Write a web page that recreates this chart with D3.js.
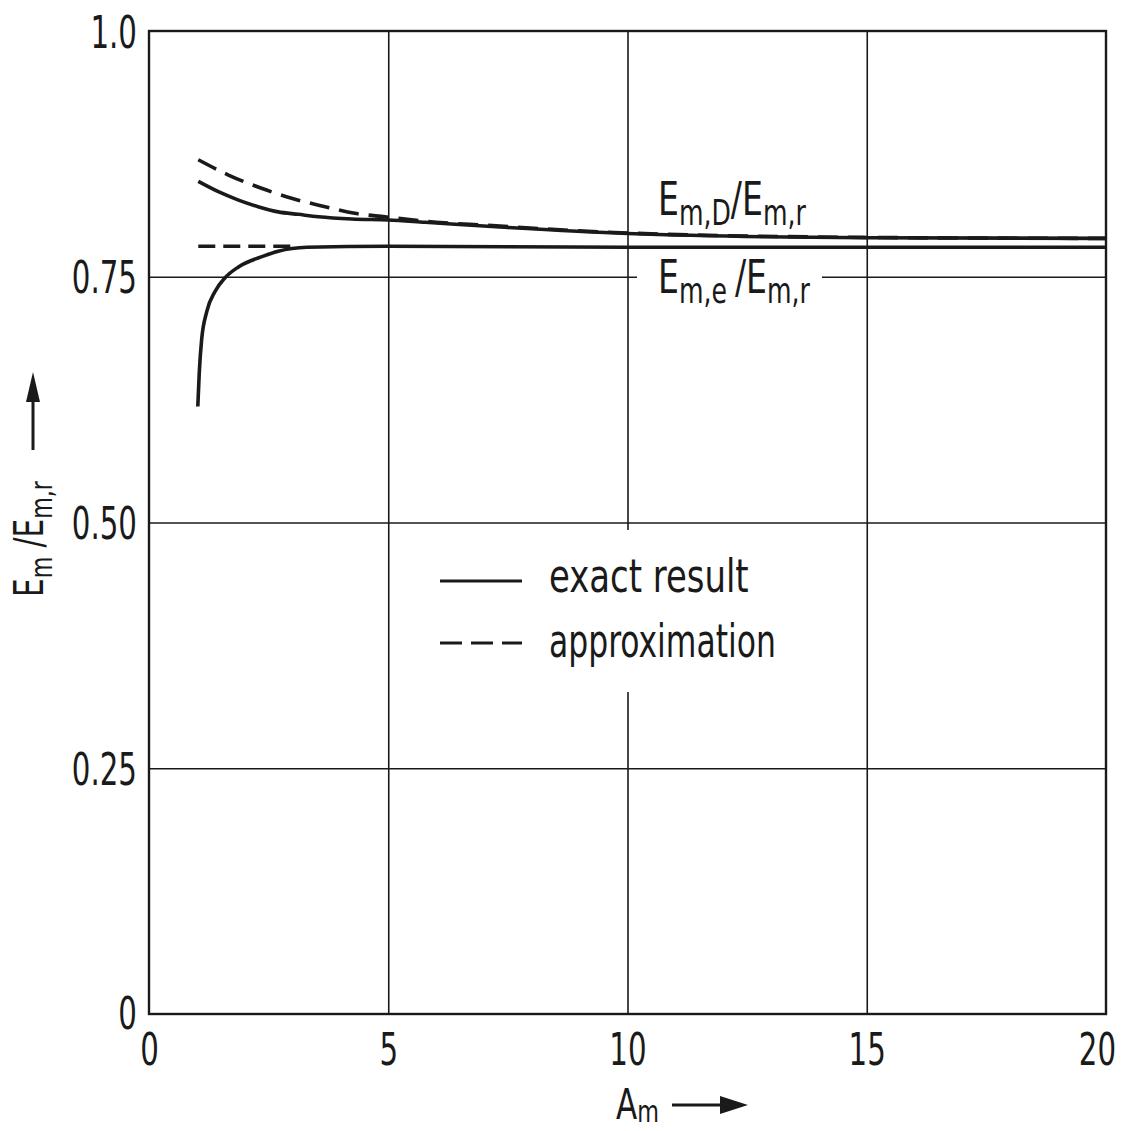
<!DOCTYPE html>
<html><head><meta charset="utf-8">
<script src="https://cdn.jsdelivr.net/npm/d3@7"></script>
<style>
body{margin:0;background:#fff;}
svg text{font-family:'DejaVu Sans Condensed','Liberation Sans Narrow','Liberation Sans',sans-serif;fill:#1a1a1a;}
</style></head>
<body><svg id="c" width="1123" height="1131"></svg>
<script>
// ---- data ----
const xTicks = [0, 5, 10, 15, 20];
const yTicks = [0, 0.25, 0.5, 0.75, 1.0];
const yTickLabels = ["0", "0.25", "0.50", "0.75", "1.0"];
const xTickLabels = ["0", "5", "10", "15", "20"];

const dExactX = [1.03, 1.45, 1.87, 2.28, 2.70, 3.12, 3.54, 4.24, 5.0, 5.77, 7.33, 10, 15, 20];
const dExactY = [0.847, 0.8365, 0.828, 0.8213, 0.816, 0.8135, 0.811, 0.8087, 0.8077, 0.8054, 0.8006, 0.794, 0.7897, 0.789];
const dApproxX = [1.03, 1.66, 2.35, 2.98, 3.68, 4.30, 4.93, 6, 7, 10, 15, 20];
const dApproxY = [0.869, 0.8535, 0.840, 0.8298, 0.8213, 0.8145, 0.811, 0.8055, 0.8025, 0.7945, 0.790, 0.789];
const eExactX = [1.02, 1.05, 1.10, 1.21, 1.38, 1.59, 1.87, 2.39, 2.70, 3.3, 5, 10, 20];
const eExactY = [0.618, 0.652, 0.686, 0.715, 0.735, 0.749, 0.760, 0.771, 0.776, 0.780, 0.781, 0.780, 0.780];
const eApproxX = [1.03, 3.0];
const eApproxY = [0.781, 0.781];

const legendItems = ["exact result", "approximation"];

// ---- layout ----
const svg = d3.select("#c");
const L = 149, R = 1106, T = 31, B = 1014;
const x = d3.scaleLinear().domain([0, 20]).range([L, R]);
const y = d3.scaleLinear().domain([0, 1]).range([B, T]);
const ink = "#1a1a1a";

function ctext(g, tx, ty, size, sx, anchor) {
  return g.append("text").attr("transform", `translate(${tx},${ty}) scale(${sx},1)`)
    .attr("font-size", size).attr("text-anchor", anchor || "start");
}

// grid via axes
svg.append("g").attr("transform", `translate(0,${B})`)
  .call(d3.axisBottom(x).tickValues([5, 10, 15]).tickSize(-(B - T)).tickFormat(""))
  .call(g => g.select(".domain").remove())
  .call(g => g.selectAll("line").attr("stroke", ink).attr("stroke-width", 1.6));
svg.append("g").attr("transform", `translate(${L},0)`)
  .call(d3.axisLeft(y).tickValues([0.25, 0.5, 0.75]).tickSize(-(R - L)).tickFormat(""))
  .call(g => g.select(".domain").remove())
  .call(g => g.selectAll("line").attr("stroke", ink).attr("stroke-width", 1.6));

// tick labels via axes
const TSX = 0.74;
const ax = svg.append("g").attr("transform", `translate(0,${B})`)
  .call(d3.axisBottom(x).tickValues(xTicks).tickSize(0).tickPadding(0).tickFormat((d, i) => xTickLabels[i]));
ax.select(".domain").remove();
ax.selectAll("text").attr("font-size", 44).attr("fill", ink)
  .attr("y", null).attr("dy", null)
  .attr("transform", d => `translate(${d === 20 ? -9 : 0},51) scale(${TSX},1)`);

const ay = svg.append("g").attr("transform", `translate(${L},0)`)
  .call(d3.axisLeft(y).tickValues(yTicks).tickSize(0).tickPadding(0).tickFormat((d, i) => yTickLabels[i]));
ay.select(".domain").remove();
ay.selectAll("text").attr("font-size", 44).attr("fill", ink)
  .attr("x", null).attr("dy", null)
  .attr("transform", d => `translate(-12,${d === 0 ? 14 : 16}) scale(${TSX},1)`);

// label masks
svg.append("rect").attr("x", 637).attr("y", 262).attr("width", 185).attr("height", 40).attr("fill", "#fff");
svg.append("rect").attr("x", 600).attr("y", 530).attr("width", 60).attr("height", 162).attr("fill", "#fff");

// frame
svg.append("rect").attr("x", L).attr("y", y(1)).attr("width", R - L).attr("height", B - y(1))
  .attr("fill", "none").attr("stroke", ink).attr("stroke-width", 2.4);

// curves
const line = d3.line().x(d => x(d[0])).y(d => y(d[1])).curve(d3.curveMonotoneX);
const series = [
  [dExactX, dExactY, null],
  [dApproxX, dApproxY, "20,10"],
  [eExactX, eExactY, null],
  [eApproxX, eApproxY, "17,8"]
];
series.forEach(([xs, ys, dash]) => {
  svg.append("path").datum(xs.map((v, i) => [v, ys[i]]))
    .attr("d", line).attr("fill", "none").attr("stroke", ink)
    .attr("stroke-width", 3.6).attr("stroke-dasharray", dash);
});

// curve labels
function frac(tx, ty, sub1, sub2) {
  const t = ctext(svg, tx, ty, 46, 0.8, "start");
  t.append("tspan").text("E");
  t.append("tspan").attr("font-size", 35).attr("dy", 10).text(sub1);
  t.append("tspan").attr("dy", -10).text("/E");
  t.append("tspan").attr("font-size", 35).attr("dy", 10).text(sub2);
  return t;
}
frac(658, 215, "m,D", "m,r");
frac(658, 293, "m,e ", "m,r");

// legend
svg.append("line").attr("x1", 440).attr("x2", 522).attr("y1", 581).attr("y2", 581)
  .attr("stroke", ink).attr("stroke-width", 3);
svg.append("line").attr("x1", 440).attr("x2", 522).attr("y1", 643).attr("y2", 643)
  .attr("stroke", ink).attr("stroke-width", 3).attr("stroke-dasharray", "22,9");
ctext(svg, 549, 592, 46, 0.82).text(legendItems[0]);
ctext(svg, 549, 657, 46, 0.76).text(legendItems[1]);

// x axis title
const xt = ctext(svg, 616, 1119, 43, 0.8);
xt.append("tspan").text("A");
xt.append("tspan").attr("font-size", 31).attr("dy", 3).text("m");
svg.append("line").attr("x1", 672).attr("x2", 725).attr("y1", 1105).attr("y2", 1105)
  .attr("stroke", ink).attr("stroke-width", 3);
svg.append("path").attr("d", "M720,1096 L748,1105 L720,1114 Z").attr("fill", ink);

// y axis title (rotated)
const yt = svg.append("text").attr("transform", `translate(43,597) rotate(-90) scale(0.82,1)`)
  .attr("font-size", 40);
yt.append("tspan").text("E");
yt.append("tspan").attr("font-size", 30).attr("dy", 9).text("m");
yt.append("tspan").attr("dy", -9).text(" /E");
yt.append("tspan").attr("font-size", 30).attr("dy", 9).text("m,r");
svg.append("line").attr("x1", 33).attr("x2", 33).attr("y1", 450).attr("y2", 395)
  .attr("stroke", ink).attr("stroke-width", 3);
svg.append("path").attr("d", "M26,402 L33,372 L40,402 Z").attr("fill", ink);
</script></body></html>
